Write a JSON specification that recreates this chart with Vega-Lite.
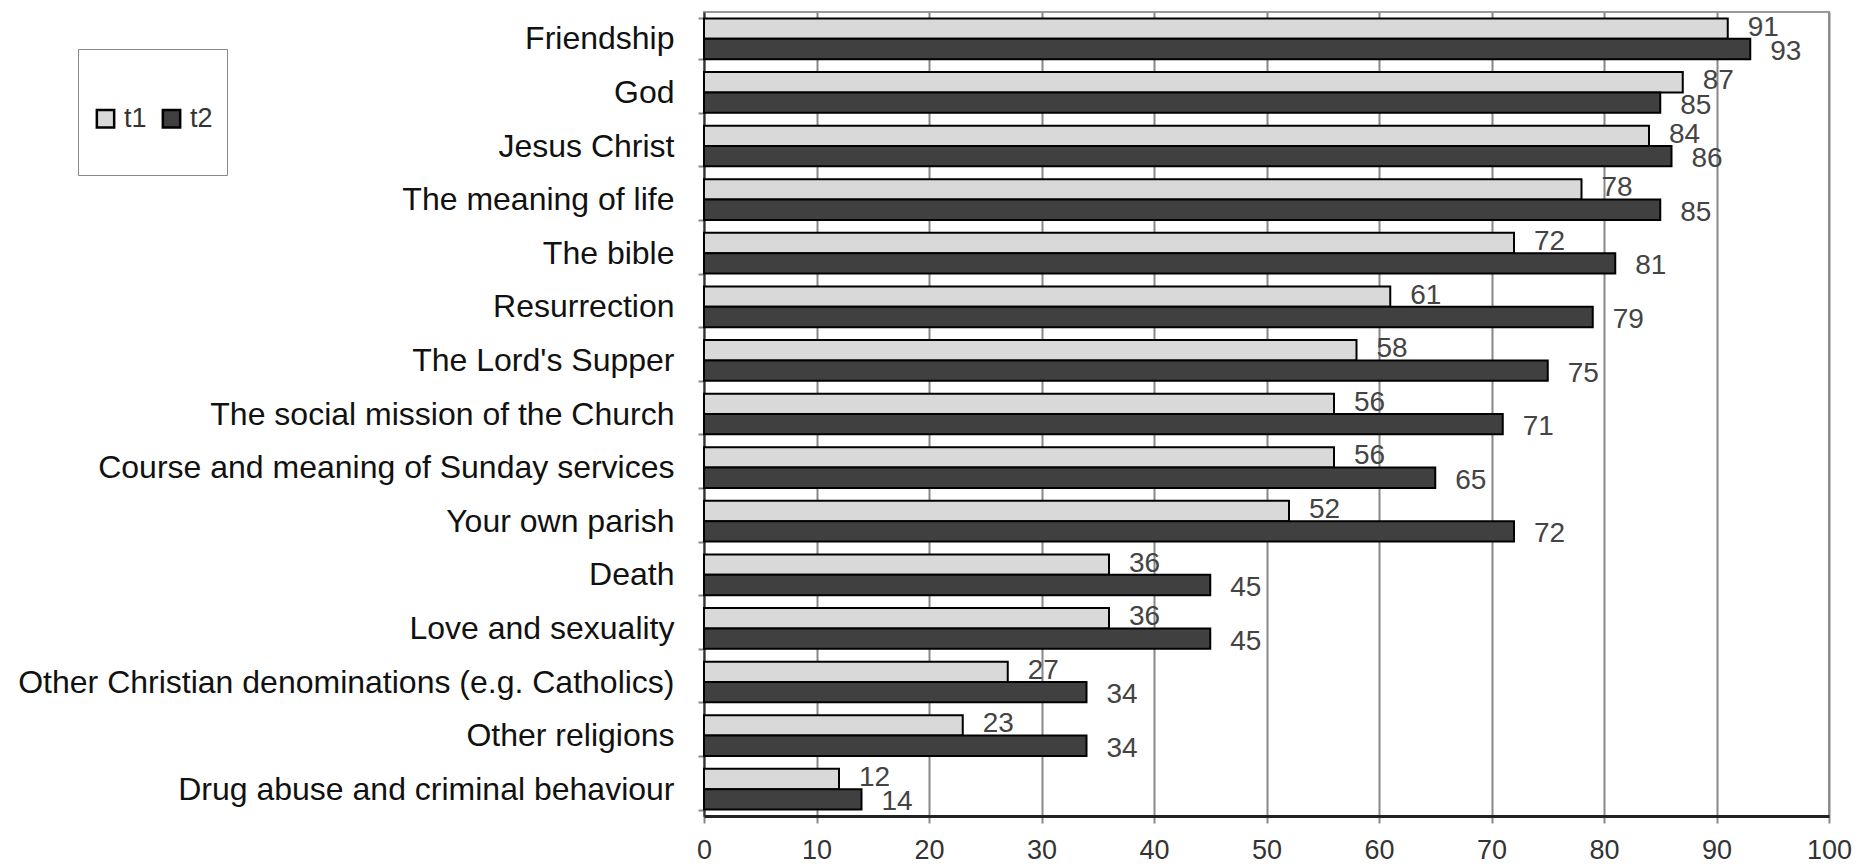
{
  "$schema": "https://vega.github.io/schema/vega-lite/v6.json",
  "width": 1125,
  "height": 804,
  "autosize": {"type": "none"},
  "padding": {"left": 704, "top": 12, "right": 31, "bottom": 50},
  "background": "white",
  "config": {
    "font": "Liberation Sans",
    "view": {"stroke": "#999999", "strokeWidth": 2}
  },
  "data": {
    "values": [
      {"category": "Friendship", "series": "t1", "value": 91},
      {"category": "Friendship", "series": "t2", "value": 93},
      {"category": "God", "series": "t1", "value": 87},
      {"category": "God", "series": "t2", "value": 85},
      {"category": "Jesus Christ", "series": "t1", "value": 84},
      {"category": "Jesus Christ", "series": "t2", "value": 86},
      {"category": "The meaning of life", "series": "t1", "value": 78},
      {"category": "The meaning of life", "series": "t2", "value": 85},
      {"category": "The bible", "series": "t1", "value": 72},
      {"category": "The bible", "series": "t2", "value": 81},
      {"category": "Resurrection", "series": "t1", "value": 61},
      {"category": "Resurrection", "series": "t2", "value": 79},
      {"category": "The Lord's Supper", "series": "t1", "value": 58},
      {"category": "The Lord's Supper", "series": "t2", "value": 75},
      {"category": "The social mission of the Church", "series": "t1", "value": 56},
      {"category": "The social mission of the Church", "series": "t2", "value": 71},
      {"category": "Course and meaning of Sunday services", "series": "t1", "value": 56},
      {"category": "Course and meaning of Sunday services", "series": "t2", "value": 65},
      {"category": "Your own parish", "series": "t1", "value": 52},
      {"category": "Your own parish", "series": "t2", "value": 72},
      {"category": "Death", "series": "t1", "value": 36},
      {"category": "Death", "series": "t2", "value": 45},
      {"category": "Love and sexuality", "series": "t1", "value": 36},
      {"category": "Love and sexuality", "series": "t2", "value": 45},
      {"category": "Other Christian denominations (e.g. Catholics)", "series": "t1", "value": 27},
      {"category": "Other Christian denominations (e.g. Catholics)", "series": "t2", "value": 34},
      {"category": "Other religions", "series": "t1", "value": 23},
      {"category": "Other religions", "series": "t2", "value": 34},
      {"category": "Drug abuse and criminal behaviour", "series": "t1", "value": 12},
      {"category": "Drug abuse and criminal behaviour", "series": "t2", "value": 14}
    ]
  },
  "encoding": {
    "y": {
      "field": "category",
      "type": "nominal",
      "sort": null,
      "scale": {"paddingInner": 0.24, "paddingOuter": 0.12},
      "axis": {
        "title": null,
        "labelFontSize": 32,
        "labelColor": "#111111",
        "labelPadding": 24,
        "labelLimit": 700,
        "tickBand": "extent",
        "tickSize": 6,
        "tickColor": "#888888",
        "tickWidth": 2,
        "domainColor": "#333333",
        "domainWidth": 2,
        "grid": false
      }
    },
    "yOffset": {
      "field": "series",
      "type": "nominal",
      "scale": {"domain": ["t1", "t2"], "paddingInner": 0, "paddingOuter": 0}
    }
  },
  "layer": [
    {
      "mark": {"type": "bar", "stroke": "#000000", "strokeWidth": 2},
      "encoding": {
        "x": {
          "field": "value",
          "type": "quantitative",
          "scale": {"domain": [0, 100], "nice": false},
          "axis": {
            "title": null,
            "tickCount": 10,
            "grid": true,
            "gridColor": "#888888",
            "gridWidth": 2,
            "domainColor": "#222222",
            "domainWidth": 3,
            "tickSize": 7,
            "tickColor": "#888888",
            "tickWidth": 2,
            "labelFontSize": 27,
            "labelColor": "#333333",
            "labelPadding": 14,
            "labelFlush": false
          }
        },
        "color": {
          "field": "series",
          "type": "nominal",
          "scale": {"domain": ["t1", "t2"], "range": ["#d9d9d9", "#404040"]},
          "legend": {
            "title": " ",
            "titleFontSize": 20,
            "titlePadding": 22,
            "orient": "none",
            "legendX": -626,
            "legendY": 37,
            "direction": "horizontal",
            "strokeColor": "#888888",
            "padding": 14,
            "symbolType": "square",
            "symbolSize": 300,
            "symbolStrokeColor": "#000000",
            "symbolStrokeWidth": 2.5,
            "symbolOpacity": 1,
            "labelFontSize": 27,
            "labelColor": "#333333",
            "labelOffset": 5,
            "columnPadding": 10,
            "labelExpr": "[datum.label, '']",
            "labelLineHeight": 45
          }
        }
      }
    },
    {
      "transform": [{"filter": "datum.series === 't1'"}],
      "mark": {"type": "text", "align": "left", "baseline": "middle", "dx": 20, "dy": -1, "fontSize": 28, "color": "#444444"},
      "encoding": {
        "x": {"field": "value", "type": "quantitative"},
        "text": {"field": "value", "type": "quantitative"}
      }
    },
    {
      "transform": [{"filter": "datum.series === 't2'"}],
      "mark": {"type": "text", "align": "left", "baseline": "middle", "dx": 20, "dy": 3, "fontSize": 28, "color": "#444444"},
      "encoding": {
        "x": {"field": "value", "type": "quantitative"},
        "text": {"field": "value", "type": "quantitative"}
      }
    }
  ]
}
